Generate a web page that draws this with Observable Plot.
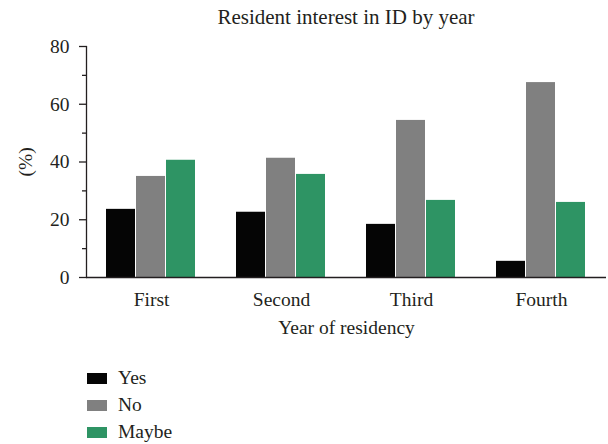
<!DOCTYPE html>
<html><head><meta charset="utf-8">
<script src="https://cdn.jsdelivr.net/npm/d3@7"></script>
<script src="https://cdn.jsdelivr.net/npm/@observablehq/plot@0.6"></script>
<style>
body{margin:0;background:#fff;}
#wrap{position:relative;width:608px;height:444px;font-family:"Liberation Serif",serif;color:#231f20;}
#chart{position:absolute;left:0;top:0;}
#title{position:absolute;top:6px;left:86px;width:520px;text-align:center;font-size:21px;line-height:22px;}
#legend{position:absolute;left:87px;top:364.5px;}
.item{display:flex;align-items:center;height:27px;font-size:19.5px;}
.sw{width:20px;height:11px;margin-right:11px;}
</style></head><body>
<div id="wrap"><div id="chart"></div><div id="title"></div><div id="legend"></div></div>
<script>
const years = ["First", "Second", "Third", "Fourth"];
const answers = ["Yes", "No", "Maybe"];
const yes = [23.6, 22.6, 18.4, 5.6];
const no = [35.0, 41.3, 54.4, 67.5];
const maybe = [40.6, 35.7, 26.7, 26.0];
const colors = ["#050505", "#808080", "#2e9464"];
const yTicks = [0, 20, 40, 60, 80];
const yMinor = [10, 30, 50, 70];
const titleText = "Resident interest in ID by year";
const xLabel = "Year of residency";
const yLabel = "(%)";

const series = [yes, no, maybe];
const data = [];
years.forEach((yr, i) => answers.forEach((a, j) => data.push({year: yr, answer: a, value: series[j][i]})));

const ink = "#231f20";
const H = 340;
const chart = Plot.plot({
  width: 608, height: H,
  marginLeft: 86, marginRight: 2, marginTop: 46, marginBottom: H - 277,
  style: {fontFamily: "Liberation Serif, serif", fontSize: "19.5px", color: ink, background: "transparent"},
  fx: {domain: years, padding: 0},
  x: {domain: answers, paddingInner: 0.032, paddingOuter: 0.613, axis: null},
  y: {domain: [0, 80]},
  color: {domain: answers, range: colors},
  marks: [
    Plot.barY(data, {fx: "year", x: "answer", y: "value", fill: "answer"}),
    Plot.ruleY([0], {stroke: ink, strokeWidth: 1.3}),
    Plot.frame({anchor: "left", facetAnchor: "left", stroke: ink, strokeWidth: 1.3}),
    Plot.axisY(yTicks, {tickSize: 7, tickPadding: 10, label: yLabel, labelArrow: "none", labelAnchor: "center", labelOffset: 68, stroke: ink, strokeWidth: 1.3}),
    Plot.axisY(yMinor, {tickSize: 4, tickFormat: () => "", label: null, stroke: ink, strokeWidth: 1.3}),
    Plot.axisFx({anchor: "bottom", tickSize: 0, tickPadding: 14.5, label: xLabel, labelArrow: "none", labelAnchor: "center", labelOffset: 56})
  ]
});
document.getElementById("chart").appendChild(chart);
document.getElementById("title").textContent = titleText;
const lg = document.getElementById("legend");
answers.forEach((a, j) => {
  const it = document.createElement("div"); it.className = "item";
  const sw = document.createElement("span"); sw.className = "sw"; sw.style.background = colors[j];
  const t = document.createElement("span"); t.textContent = a;
  it.appendChild(sw); it.appendChild(t); lg.appendChild(it);
});
</script></body></html>
